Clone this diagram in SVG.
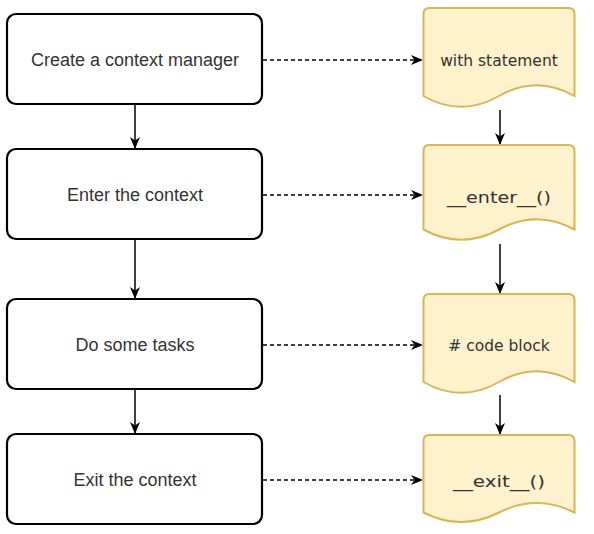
<svg xmlns="http://www.w3.org/2000/svg" width="594" height="534" viewBox="0 0 594 534">
<style>
.box{fill:#ffffff;stroke:#000000;stroke-width:2.2}
.doc{fill:#fff2cc;stroke:#d6b656;stroke-width:2}
.lt{font-family:"Liberation Sans",Arial,sans-serif;font-size:18px;fill:#333333;text-anchor:middle}
.rt{font-family:"DejaVu Sans",Verdana,sans-serif;font-size:15.5px;fill:#333333;text-anchor:middle}
.solid{fill:none;stroke:#000000;stroke-width:1.5}
.dash{fill:none;stroke:#000000;stroke-width:1.6;stroke-dasharray:4 3}
</style>
<defs>
<marker id="arr" viewBox="0 0 12 10" refX="11" refY="5" markerWidth="12" markerHeight="10" markerUnits="userSpaceOnUse" orient="auto">
<path d="M0,0 L12,5 L0,10 L3.5,5 Z" fill="#000000"/>
</marker>
</defs>
<rect width="594" height="534" fill="#ffffff"/>
<g id="connectors">
<line class="solid" x1="135" y1="104" x2="135" y2="148" marker-end="url(#arr)"/>
<line class="solid" x1="135" y1="239" x2="135" y2="298" marker-end="url(#arr)"/>
<line class="solid" x1="135" y1="389" x2="135" y2="433" marker-end="url(#arr)"/>
<line class="solid" x1="500" y1="110" x2="500" y2="144" marker-end="url(#arr)"/>
<line class="solid" x1="500" y1="244" x2="500" y2="293" marker-end="url(#arr)"/>
<line class="solid" x1="500" y1="395" x2="500" y2="434" marker-end="url(#arr)"/>
<line class="dash" x1="263" y1="60" x2="422" y2="60" marker-end="url(#arr)"/>
<line class="dash" x1="263" y1="195" x2="422" y2="195" marker-end="url(#arr)"/>
<line class="dash" x1="263" y1="345" x2="422" y2="345" marker-end="url(#arr)"/>
<line class="dash" x1="263" y1="480" x2="422" y2="480" marker-end="url(#arr)"/>
</g>
<g id="create">
<rect class="box" x="7" y="14" width="255" height="90" rx="9"/>
<text class="lt" x="135" y="66">Create a context manager</text>
</g>
<g id="enter">
<rect class="box" x="7" y="149" width="255" height="90" rx="9"/>
<text class="lt" x="135" y="201">Enter the context</text>
</g>
<g id="tasks">
<rect class="box" x="7" y="299" width="255" height="90" rx="9"/>
<text class="lt" x="135" y="351">Do some tasks</text>
</g>
<g id="exit">
<rect class="box" x="7" y="434" width="255" height="90" rx="9"/>
<text class="lt" x="135" y="486">Exit the context</text>
</g>
<g id="with">
<path class="doc" d="M423.5,14 Q423.5,8 429.5,8 L568.5,8 Q574.5,8 574.5,14 L574.5,96 Q536.75,74.4 499,96 Q461.25,117.6 423.5,96 Z"/>
<text class="rt" x="499" y="66">with statement</text>
</g>
<g id="enter_fn">
<path class="doc" d="M423.5,151 Q423.5,145 429.5,145 L568.5,145 Q574.5,145 574.5,151 L574.5,229.5 Q536.75,208.8 499,229.5 Q461.25,250.2 423.5,229.5 Z"/>
<text class="rt" x="499" y="203" textLength="104" lengthAdjust="spacingAndGlyphs">__enter__()</text>
</g>
<g id="code">
<path class="doc" d="M423.5,300 Q423.5,294 429.5,294 L568.5,294 Q574.5,294 574.5,300 L574.5,382 Q536.75,360.4 499,382 Q461.25,403.6 423.5,382 Z"/>
<text class="rt" x="499" y="351"># code block</text>
</g>
<g id="exit_fn">
<path class="doc" d="M423.5,441 Q423.5,435 429.5,435 L568.5,435 Q574.5,435 574.5,441 L574.5,512.5 Q536.75,493.6 499,512.5 Q461.25,531.4 423.5,512.5 Z"/>
<text class="rt" x="499" y="487" textLength="92" lengthAdjust="spacingAndGlyphs">__exit__()</text>
</g>
</svg>
